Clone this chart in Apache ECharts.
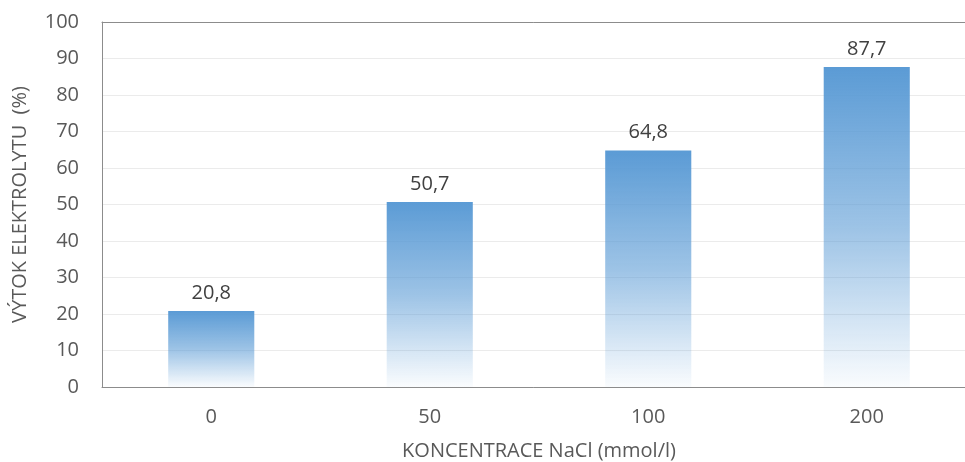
<!DOCTYPE html>
<html>
<head>
<meta charset="utf-8">
<script src="https://cdn.jsdelivr.net/npm/echarts@6/dist/echarts.min.js"></script>
<style>html,body{margin:0;padding:0;background:#fff}#c{width:965px;height:462px}</style>
</head>
<body>
<div id="c"></div>
<script>
var categories = ['0', '50', '100', '200'];
var values = [20.8, 50.7, 64.8, 87.7];
var yTicks = { min: 0, max: 100, interval: 10 };
var xName = 'KONCENTRACE NaCl (mmol/l)';
var yName = 'VÝTOK ELEKTROLYTU  (%)';

var font = '"Open Sans", "Noto Sans", sans-serif';
var chart = echarts.init(document.getElementById('c'));
chart.setOption({
  animation: false,
  grid: { left: 102, top: 22, width: 874, height: 365, show: false, containLabel: false, outerBoundsMode: 'none' },
  xAxis: [{
    type: 'category',
    data: categories,
    name: xName,
    nameLocation: 'middle',
    nameGap: 54,
    nameTextStyle: { color: '#595959', fontSize: 20, fontFamily: font },
    axisLine: { show: true, lineStyle: { color: '#8c8c8c', width: 1 } },
    axisTick: { show: false },
    axisLabel: { color: '#595959', fontSize: 20, fontFamily: font, margin: 20 }
  }, {
    type: 'category',
    data: categories,
    position: 'top',
    axisLine: { show: true, lineStyle: { color: '#8c8c8c', width: 1 } },
    axisTick: { show: false },
    axisLabel: { show: false },
    splitLine: { show: false }
  }],
  yAxis: {
    type: 'value',
    min: yTicks.min, max: yTicks.max, interval: yTicks.interval,
    name: yName,
    nameLocation: 'middle',
    nameGap: 72,
    nameTextStyle: { color: '#595959', fontSize: 20, fontFamily: font },
    axisLine: { show: true, lineStyle: { color: '#8c8c8c', width: 1 } },
    axisTick: { show: false },
    axisLabel: { color: '#595959', fontSize: 20, fontFamily: font, margin: 23 },
    splitLine: { show: true, lineStyle: { color: '#ebebeb', width: 1 } }
  },
  series: [{
    type: 'bar',
    data: values,
    barWidth: '39.4%',
    itemStyle: {
      color: new echarts.graphic.LinearGradient(0, 0, 0, 1, [
        { offset: 0, color: 'rgba(91,155,213,1)' },
        { offset: 0.5, color: 'rgba(91,155,213,0.6)' },
        { offset: 1, color: 'rgba(91,155,213,0.03)' }
      ])
    },
    label: {
      show: true,
      position: 'top',
      distance: 8,
      color: '#404040',
      fontSize: 20,
      fontFamily: font,
      formatter: function (p) { return String(p.value).replace('.', ','); }
    }
  }]
});
</script>
</body>
</html>
